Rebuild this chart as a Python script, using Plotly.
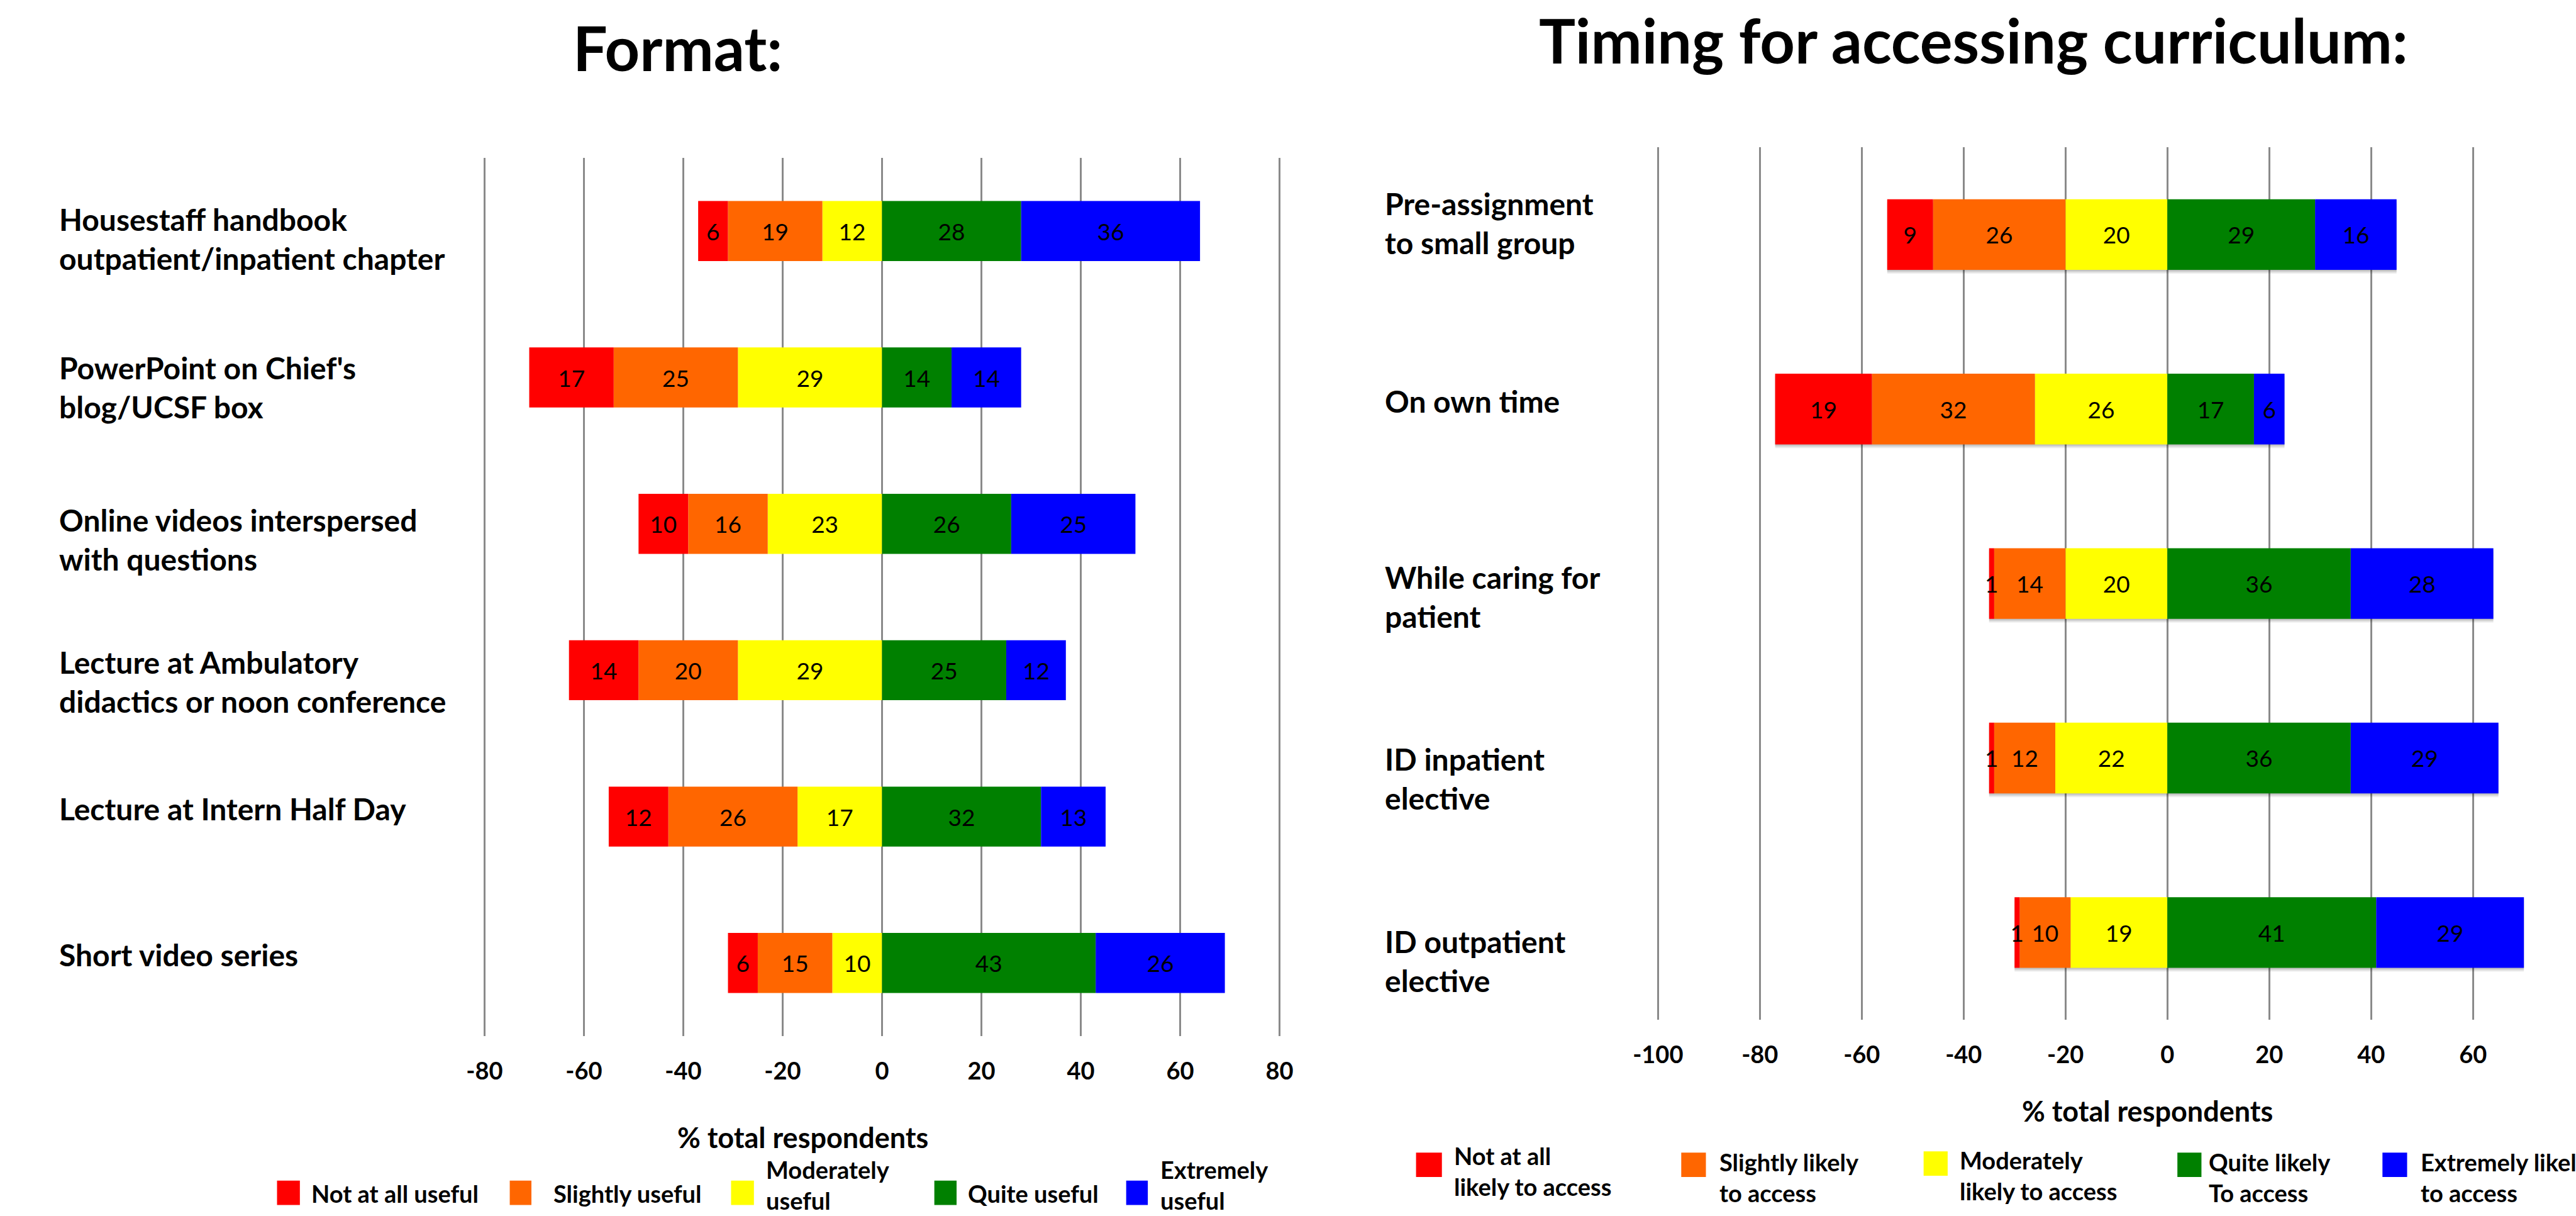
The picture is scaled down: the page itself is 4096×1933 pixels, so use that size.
import plotly.graph_objects as go

# ---------------- data ----------------
format_items = [
    "Housestaff handbook<br>outpatient/inpatient chapter",
    "PowerPoint on Chief's<br>blog/UCSF box",
    "Online videos interspersed<br>with questions",
    "Lecture at Ambulatory<br>didactics or noon conference",
    "Lecture at Intern Half Day",
    "Short video series",
]
format_not = [6, 17, 10, 14, 12, 6]
format_slight = [19, 25, 16, 20, 26, 15]
format_mod = [12, 29, 23, 29, 17, 10]
format_quite = [28, 14, 26, 25, 32, 43]
format_extreme = [36, 14, 25, 12, 13, 26]
format_names = ["Not at all useful", "Slightly useful", "Moderately<br>useful",
                "Quite useful", "Extremely<br>useful"]

timing_items = [
    "Pre-assignment<br>to small group",
    "On own time",
    "While caring for<br>patient",
    "ID inpatient<br>elective",
    "ID outpatient<br>elective",
]
timing_not = [9, 19, 1, 1, 1]
timing_slight = [26, 32, 14, 12, 10]
timing_mod = [20, 26, 20, 22, 19]
timing_quite = [29, 17, 36, 36, 41]
timing_extreme = [16, 6, 28, 29, 29]
timing_names = ["Not at all<br>likely to access", "Slightly likely<br>to access",
                "Moderately<br>likely to access", "Quite likely<br>To access",
                "Extremely likely<br>to access"]

format_ticks = [-80, -60, -40, -20, 0, 20, 40, 60, 80]
timing_ticks = [-100, -80, -60, -40, -20, 0, 20, 40, 60]

colors = ["#FF0000", "#FF6600", "#FFFF00", "#008000", "#0000FF"]

# ---------------- layout helpers ----------------
W_REF, H_REF = 4227, 1995
W, H = 4096, 1933
SCALE = W / W_REF


def px(x):
    return x / W_REF


def py(y):
    return 1 - y / H_REF


FONT = "Lato"
fig = go.Figure()


def add_panel(items, series, names, xa, ya, width):
    # negative side stacks outward from zero: moderately, slightly, not at all
    order = [2, 1, 0, 3, 4]
    for k in order:
        vals = series[k]
        sign = -1 if k < 3 else 1
        fig.add_trace(go.Bar(
            y=items, x=[sign * v for v in vals], orientation="h",
            name=names[k].replace("<br>", " "), marker=dict(color=colors[k], line=dict(width=0)),
            width=width, text=[str(v) for v in vals], textposition="inside",
            insidetextanchor="middle", textangle=0,
            textfont=dict(family=FONT, size=37, color="black"),
            xaxis=xa, yaxis=ya, showlegend=False, hoverinfo="skip",
        ))


FMT_W, TIM_W = 0.41, 0.405
add_panel(format_items, [format_not, format_slight, format_mod, format_quite, format_extreme],
          format_names, "x", "y", FMT_W)
add_panel(timing_items, [timing_not, timing_slight, timing_mod, timing_quite, timing_extreme],
          timing_names, "x2", "y2", TIM_W)

grid = dict(showgrid=True, gridcolor="#8a8a8a", gridwidth=2.5, zeroline=False,
            showline=False, ticks="", tickfont=dict(family=FONT, size=38, color="black", weight="bold"),
            ticklabelstandoff=30, fixedrange=True)

# small padding so the outermost grid lines are not clipped at the plot edge
pad = 0.5
fmt_ppu = 8.2625   # reference pixels per percent, left panel
tim_ppu = 8.47     # reference pixels per percent, right panel

fig.update_layout(
    width=W, height=H, margin=dict(l=0, r=0, t=0, b=0),
    paper_bgcolor="white", plot_bgcolor="white",
    barmode="relative",
    uniformtext=dict(mode="show", minsize=37),
    xaxis=dict(domain=[px(768 - pad * fmt_ppu), px(2090 + pad * fmt_ppu)],
               range=[-80 - pad, 80 + pad], tickvals=format_ticks,
               ticktext=[str(t) for t in format_ticks], anchor="y", **grid),
    yaxis=dict(domain=[py(1700), py(259)], categoryorder="array", categoryarray=format_items,
               autorange="reversed", showticklabels=False, showgrid=False, zeroline=False,
               anchor="x", fixedrange=True),
    xaxis2=dict(domain=[px(2719.3 - pad * tim_ppu), 1.0], range=[-100 - pad, 78.0],
                tickvals=timing_ticks, ticktext=[str(t) for t in timing_ticks],
                anchor="y2", **grid),
    yaxis2=dict(domain=[py(1673), py(241.7)], categoryorder="array", categoryarray=timing_items,
                autorange="reversed", showticklabels=False, showgrid=False, zeroline=False,
                anchor="x2", fixedrange=True),
)

ann = []
shapes = []

# soft drop shadow under the timing bars (between grid and bars)
tim_band_px = (1673 - 241.7) / len(timing_items) * SCALE
half_h = TIM_W * tim_band_px / 2
for i, item in enumerate(timing_items):
    left = -(timing_not[i] + timing_slight[i] + timing_mod[i])
    right = timing_quite[i] + timing_extreme[i]
    for off, alpha in [(2, 0.10), (4, 0.09), (6, 0.07)]:
        shapes.append(dict(type="rect", layer="between", xref="x2", yref="y2",
                           ysizemode="pixel", yanchor=i,
                           x0=left, x1=right, y0=-half_h - off, y1=half_h - off,
                           fillcolor=f"rgba(0,0,0,{alpha})", line=dict(width=0)))

# titles
ann.append(dict(text="Format:", x=px(1089), y=py(78), xref="paper", yref="paper",
                xanchor="center", yanchor="middle", showarrow=False,
                font=dict(family=FONT, size=97, color="black", weight="bold")))
ann.append(dict(text="Timing for accessing curriculum:", x=px(3244), y=py(66), xref="paper",
                yref="paper", xanchor="center", yanchor="middle", showarrow=False,
                font=dict(family=FONT, size=97, color="black", weight="bold")))

# category labels
format_label_y = [392, 635, 885, 1118, 1327, 1566]
timing_label_y = [366, 658, 979, 1277, 1576]
for lab, yy in zip(format_items, format_label_y):
    ann.append(dict(text=lab, x=px(59), y=py(yy), xref="paper", yref="paper", align="left",
                    xanchor="left", yanchor="middle", showarrow=False,
                    font=dict(family=FONT, size=48, color="black", weight="bold")))
for lab, yy in zip(timing_items, timing_label_y):
    ann.append(dict(text=lab, x=px(2263), y=py(yy), xref="paper", yref="paper", align="left",
                    xanchor="left", yanchor="middle", showarrow=False,
                    font=dict(family=FONT, size=48, color="black", weight="bold")))

# axis titles
ann.append(dict(text="% total respondents", x=px(1297), y=py(1866), xref="paper", yref="paper",
                xanchor="center", yanchor="middle", showarrow=False,
                font=dict(family=FONT, size=45, color="black", weight="bold")))
ann.append(dict(text="% total respondents", x=px(3533), y=py(1823), xref="paper", yref="paper",
                xanchor="center", yanchor="middle", showarrow=False,
                font=dict(family=FONT, size=45, color="black", weight="bold")))

# legends
format_sw = [(423, 461), (810, 846), (1178, 1216), (1516, 1553), (1835, 1871)]
format_tx = [478, 881, 1234, 1570, 1890]
format_ty = [1958, 1958, 1944, 1958, 1944]
for k in range(5):
    x0, x1 = format_sw[k]
    shapes.append(dict(type="rect", xref="paper", yref="paper", x0=px(x0), x1=px(x1),
                       y0=py(1977), y1=py(1937), fillcolor=colors[k], line=dict(width=0)))
    ann.append(dict(text=format_names[k], x=px(format_tx[k]), y=py(format_ty[k]), xref="paper",
                    yref="paper", xanchor="left", yanchor="middle", align="left", showarrow=False,
                    font=dict(family=FONT, size=38, color="black", weight="bold")))

timing_sw = [(2317, 2360), (2758, 2799), (3161, 3201), (3583, 3623), (3924, 3965)]
timing_sy = [(1891, 1931), (1891, 1931), (1889, 1929), (1891, 1931), (1891, 1931)]
timing_tx = [2378, 2819, 3219, 3633, 3985]
timing_ty = [1921, 1932, 1928, 1932, 1932]
for k in range(5):
    x0, x1 = timing_sw[k]
    y0, y1 = timing_sy[k]
    shapes.append(dict(type="rect", xref="paper", yref="paper", x0=px(x0), x1=px(x1),
                       y0=py(y1), y1=py(y0), fillcolor=colors[k], line=dict(width=0)))
    ann.append(dict(text=timing_names[k], x=px(timing_tx[k]), y=py(timing_ty[k]), xref="paper",
                    yref="paper", xanchor="left", yanchor="middle", align="left", showarrow=False,
                    font=dict(family=FONT, size=38, color="black", weight="bold")))

fig.update_layout(annotations=ann, shapes=shapes)
fig.write_html("out.html")
